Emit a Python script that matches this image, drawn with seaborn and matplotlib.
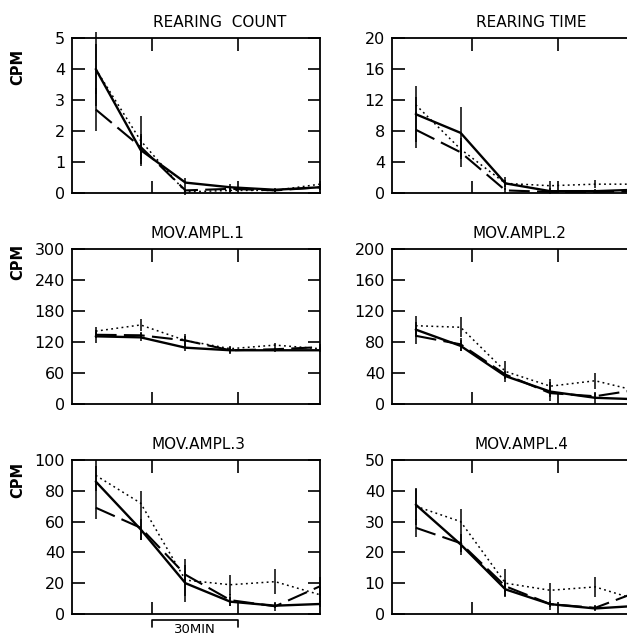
import pandas as pd
import seaborn as sns
import matplotlib.pyplot as plt

# sampling periods (15-min blocks)
periods = [0, 1, 2, 3, 4, 5]
series_names = ["solid", "dashed", "dotted"]

# REARING COUNT
rc_solid = [4.0, 1.4, 0.35, 0.2, 0.12, 0.2]
rc_solid_err = [1.2, 0.45, 0.15, 0.1, 0.05, 0.1]
rc_dashed = [2.7, 1.5, 0.1, 0.15, 0.1, 0.2]
rc_dashed_err = [0.7, 0.4, 0.1, 0.1, 0.05, 0.1]
rc_dotted = [4.0, 1.7, 0.05, 0.1, 0.1, 0.3]
rc_dotted_err = [0.8, 0.8, 0.1, 0.1, 0.05, 0.1]

# REARING TIME
rt_solid = [10.2, 7.8, 1.3, 0.3, 0.3, 0.5]
rt_solid_err = [3.6, 3.3, 0.8, 0.4, 0.3, 0.3]
rt_dashed = [8.2, 5.3, 0.4, 0.2, 0.2, 0.3]
rt_dashed_err = [2.3, 1.9, 0.3, 0.2, 0.2, 0.2]
rt_dotted = [11.4, 5.7, 1.3, 1.0, 1.2, 1.2]
rt_dotted_err = [1.0, 1.0, 0.5, 0.6, 0.5, 0.4]

# MOV.AMPL.1
m1_solid = [131, 129, 109, 104, 104, 104]
m1_solid_err = [12, 8, 6, 8, 4, 4]
m1_dashed = [134, 133, 123, 104, 106, 110]
m1_dashed_err = [6, 6, 12, 5, 4, 6]
m1_dotted = [141, 153, 123, 107, 114, 107]
m1_dotted_err = [8, 12, 8, 4, 4, 4]

# MOV.AMPL.2
m2_solid = [96, 75, 36, 16, 8, 6]
m2_solid_err = [10, 7, 4, 12, 8, 3]
m2_dashed = [88, 77, 38, 14, 10, 19]
m2_dashed_err = [10, 8, 5, 5, 4, 4]
m2_dotted = [101, 99, 42, 23, 30, 16]
m2_dotted_err = [13, 13, 13, 9, 10, 4]

# MOV.AMPL.3
m3_solid = [86, 55, 20, 8, 5.4, 6.5]
m3_solid_err = [10, 7, 8, 3, 1.5, 2]
m3_dashed = [69, 56, 25.5, 9, 5, 18]
m3_dashed_err = [7, 8, 6, 4, 3, 6]
m3_dotted = [90, 72, 22, 19, 21, 12.5]
m3_dotted_err = [10, 8, 14, 6.5, 8, 5]

# MOV.AMPL.4
m4_solid = [35.5, 22.6, 8, 3.2, 1.8, 2.7]
m4_solid_err = [5, 3.5, 2, 2, 0.8, 0.8]
m4_dashed = [28, 23, 9, 3.2, 2, 7.5]
m4_dashed_err = [3, 3, 2, 1, 0.8, 2]
m4_dotted = [35, 30, 10, 7.7, 8.8, 4.3]
m4_dotted_err = [6, 4, 4.5, 2.5, 3.2, 1.5]

titles = ["REARING  COUNT", "REARING TIME", "MOV.AMPL.1",
          "MOV.AMPL.2", "MOV.AMPL.3", "MOV.AMPL.4"]
y_max = [5, 20, 300, 200, 100, 50]
y_step = [1, 4, 60, 40, 20, 10]
panel_values = [
    (rc_solid, rc_solid_err, rc_dashed, rc_dashed_err, rc_dotted, rc_dotted_err),
    (rt_solid, rt_solid_err, rt_dashed, rt_dashed_err, rt_dotted, rt_dotted_err),
    (m1_solid, m1_solid_err, m1_dashed, m1_dashed_err, m1_dotted, m1_dotted_err),
    (m2_solid, m2_solid_err, m2_dashed, m2_dashed_err, m2_dotted, m2_dotted_err),
    (m3_solid, m3_solid_err, m3_dashed, m3_dashed_err, m3_dotted, m3_dotted_err),
    (m4_solid, m4_solid_err, m4_dashed, m4_dashed_err, m4_dotted, m4_dotted_err),
]
time_ticks = [1.25, 3.17]  # 30 min apart

sns.set_style("ticks")
plt.rcParams["font.family"] = ["DejaVu Sans"]
plt.rcParams["text.color"] = "black"

W, H = 627, 637
fig = plt.figure(figsize=(W / 100, H / 100), dpi=100)

col_x = [72, 392]
row_y = [(38, 193.5), (249, 404), (460, 614)]
title_x = [0.597, 0.56, 0.504, 0.512, 0.512, 0.52]
cpm_y = [67, 262, 480]

for i, vals in enumerate(panel_values):
    r, c = divmod(i, 2)
    x0 = col_x[c]
    y_top, y_bot = row_y[r]
    ax = fig.add_axes([x0 / W, 1 - y_bot / H, 248 / W, (y_bot - y_top) / H])

    rows = []
    for k, name in enumerate(series_names):
        for p, v, e in zip(periods, vals[2 * k], vals[2 * k + 1]):
            rows.append({"period": p, "value": v, "err": e, "series": name})
    df = pd.DataFrame(rows)

    sns.lineplot(
        data=df, x="period", y="value", style="series", size="series",
        dashes={"solid": "", "dashed": (10, 3.5), "dotted": (1.2, 2.2)},
        sizes={"solid": 1.7, "dashed": 1.5, "dotted": 1.1},
        color="black", estimator=None, legend=False, ax=ax,
    )
    ax.vlines(df["period"], df["value"] - df["err"], df["value"] + df["err"],
              color="black", lw=1.1, clip_on=False)

    ax.set_xlim(-0.53, 5.0)
    ax.set_ylim(0, y_max[i])
    ax.set_yticks(range(0, y_max[i] + 1, y_step[i]))
    ax.set_xticks(time_ticks)
    ax.set_xticklabels([])
    ax.set_xlabel("")
    ax.set_ylabel("")
    ax.tick_params(direction="in", length=9, width=1.2, top=True, right=True,
                   labelsize=11.5, pad=5, colors="black")
    for s in ax.spines.values():
        s.set_linewidth(1.3)
        s.set_color("black")

    ax.annotate(titles[i], xy=(title_x[i], 1), xycoords="axes fraction",
                xytext=(0, 8), textcoords="offset points",
                ha="center", va="baseline", fontsize=11, color="black")

    if c == 0:
        fig.text(18 / W, 1 - cpm_y[r] / H, "CPM", rotation=90,
                 ha="center", va="center", fontsize=10.5, fontweight="bold")

    if i == 4:
        tr = ax.get_xaxis_transform()
        ax.plot([time_ticks[0], time_ticks[0], time_ticks[1], time_ticks[1]],
                [-0.085, -0.04, -0.04, -0.085], color="black", lw=1.2,
                transform=tr, clip_on=False)
        ax.text(sum(time_ticks) / 2, -0.142, "30MIN", transform=tr,
                ha="center", va="bottom", fontsize=9.5)

fig.savefig("out.png", dpi=100)
